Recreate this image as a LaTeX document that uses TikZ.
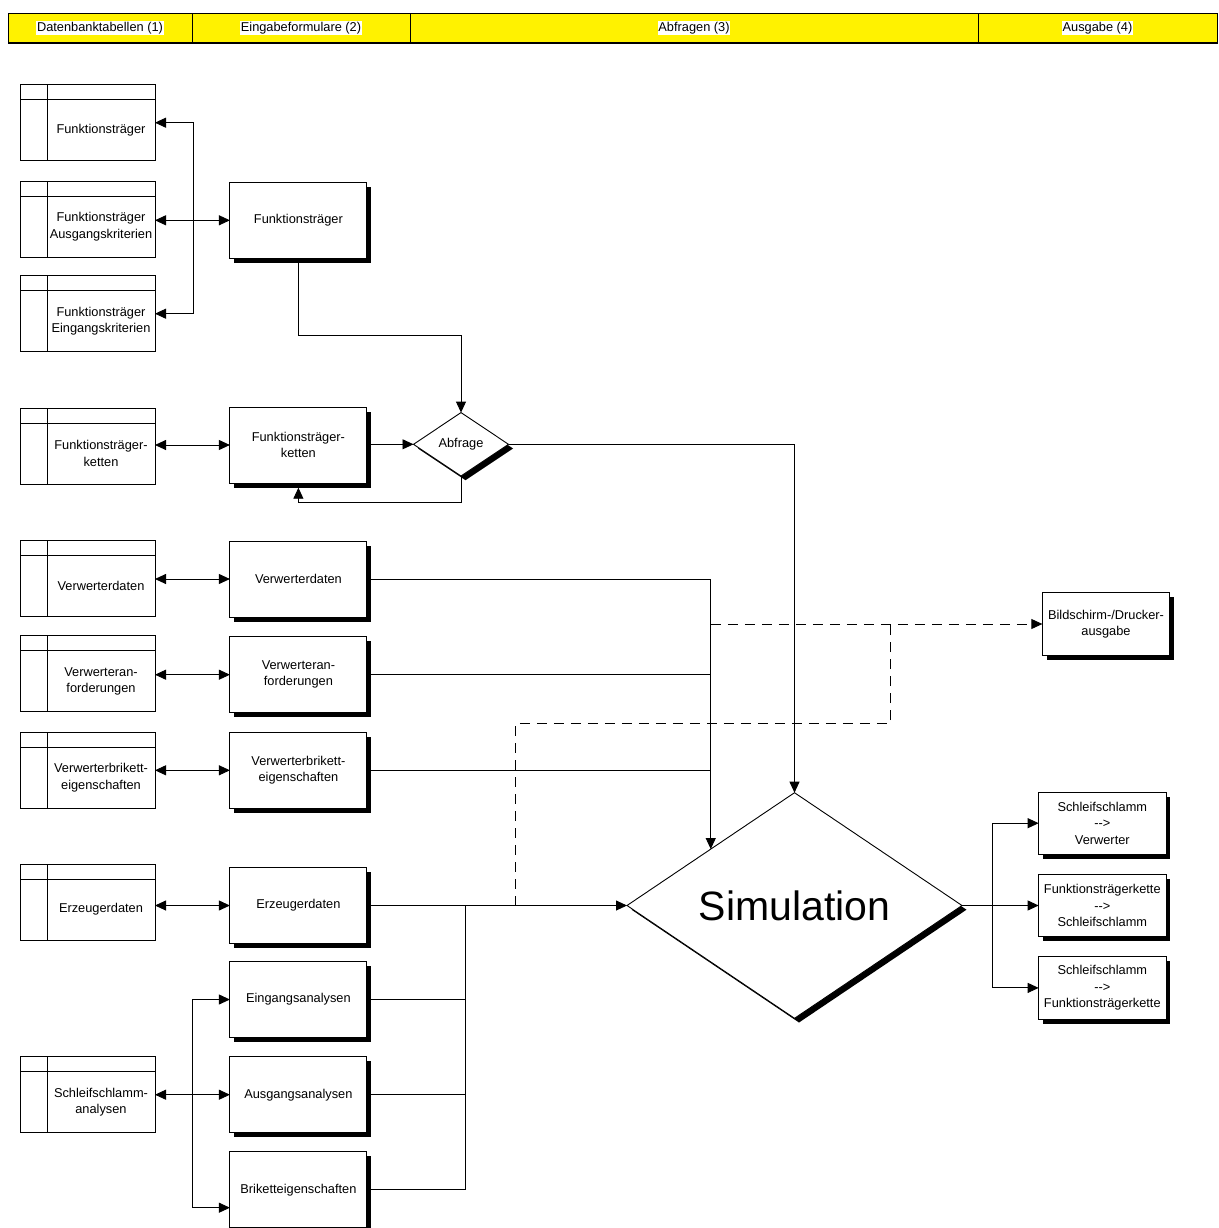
\documentclass[tikz,border=0pt]{standalone}
\usepackage{fontspec}
\setmainfont{Liberation Sans}
\usetikzlibrary{arrows.meta,shapes.geometric,shadows}
\begin{document}
\begin{tikzpicture}[x=1pt,y=-1pt,
  font=\fontsize{12.8}{16.4}\selectfont,
  ln/.style={line width=0.9pt,draw=black},
  arr/.style={-{Triangle[length=11pt,width=10pt]}},
  dblarr/.style={{Triangle[length=11pt,width=10pt]}-{Triangle[length=11pt,width=10pt]}},
  dashline/.style={dash pattern=on 10pt off 7pt},
  hdrcell/.style={draw=black,line width=0.8pt,fill=yellow,minimum height=30pt,inner sep=0pt,outer sep=0pt},
  hdrtext/.style={fill=white,inner sep=0.6pt},
  celltext/.style={align=center,inner sep=0pt,xshift=13.5pt,yshift=-7.5pt},
  dbtable/.style={draw=black,fill=white,line width=0.9pt,minimum width=135pt,minimum height=76pt,
    inner sep=0pt,outer sep=0pt,
    path picture={
      \draw[line width=0.9pt] ([yshift=-15pt]path picture bounding box.north west) -- ([yshift=-15pt]path picture bounding box.north east);
      \draw[line width=0.9pt] ([xshift=27pt]path picture bounding box.north west) -- ([xshift=27pt]path picture bounding box.south west);
    },
    label={[celltext]center:{#1}}},
  boxshadow/.style={drop shadow={shadow xshift=4.5pt,shadow yshift=-4.7pt,fill=black,opacity=1}},
  formbox/.style={draw=black,fill=white,line width=0.9pt,minimum width=137pt,minimum height=76pt,
    align=center,inner sep=1pt,outer sep=0pt,boxshadow},
  outbox/.style={draw=black,fill=white,line width=0.9pt,minimum width=127.3pt,minimum height=62.5pt,
    align=center,inner sep=1pt,outer sep=0pt,boxshadow},
  decision/.style={diamond,aspect=1.5,draw=black,fill=white,line width=0.9pt,inner sep=0pt,outer sep=0pt,
    drop shadow={shadow xshift=4.5pt,shadow yshift=-4.2pt,fill=black,opacity=1}}
]
\useasboundingbox (0,0) rectangle (1218,1228);

% column headings
\node[hdrcell,minimum width=184pt,label={[hdrtext]center:Datenbanktabellen (1)}] (h1) at (100,28) {};
\node[hdrcell,minimum width=218pt,label={[hdrtext]center:Eingabeformulare (2)}] (h2) at (301,28) {};
\node[hdrcell,minimum width=568pt,label={[hdrtext]center:Abfragen (3)}] (h3) at (694,28) {};
\node[hdrcell,minimum width=239pt,label={[hdrtext]center:Ausgabe (4)}] (h4) at (1097.5,28) {};
\draw[line width=1.6pt] (h1.south west) -- (h4.south east);

% database tables
\node[dbtable={Funktionsträger}] (t1) at (87.5,122.7) {};
\node[dbtable={Funktionsträger\\Ausgangskriterien}] (t2) at (87.5,219.3) {};
\node[dbtable={Funktionsträger\\Eingangskriterien}] (t3) at (87.5,313.7) {};
\node[dbtable={Funktionsträger-\\ketten}] (t4) at (87.5,446) {};
\node[dbtable={Verwerterdaten}] (t5) at (87.5,578.7) {};
\node[dbtable={Verwerteran-\\forderungen}] (t6) at (87.5,673.7) {};
\node[dbtable={Verwerterbrikett-\\eigenschaften}] (t7) at (87.5,770) {};
\node[dbtable={Erzeugerdaten}] (t8) at (87.5,902) {};
\node[dbtable={Schleifschlamm-\\analysen}] (t9) at (87.5,1094.7) {};

% input forms
\node[formbox] (f1) at (298.4,220.3) {Funktionsträger};
\node[formbox] (f2) at (298.4,445) {Funktionsträger-\\ketten};
\node[formbox] (f3) at (298.4,579) {Verwerterdaten};
\node[formbox] (f4) at (298.4,674.7) {Verwerteran-\\forderungen};
\node[formbox] (f5) at (298.4,770.3) {Verwerterbrikett-\\eigenschaften};
\node[formbox] (f6) at (298.4,905.5) {Erzeugerdaten};
\node[formbox] (f7) at (298.4,999.5) {Eingangsanalysen};
\node[formbox] (f8) at (298.4,1094.7) {Ausgangsanalysen};
\node[formbox] (f9) at (298.4,1189.7) {Briketteigenschaften};

% queries
\node[decision,minimum width=95pt,minimum height=63.4pt] (abf) at (461,444.3) {Abfrage};
\node[decision,minimum width=335pt,minimum height=225.6pt,font=\fontsize{41}{49}\selectfont] (sim) at (794.5,905.5) {Simulation};

% output
\node[outbox] (bild) at (1106,624) {Bildschirm-/Drucker-\\ausgabe};
\node[outbox] (o1) at (1102.3,823.2) {Schleifschlamm\\-{}-{}>\\Verwerter};
\node[outbox] (o2) at (1102.3,905.5) {Funktionsträgerkette\\-{}-{}>\\Schleifschlamm};
\node[outbox] (o3) at (1102.3,987.9) {Schleifschlamm\\-{}-{}>\\Funktionsträgerkette};

% Funktionstraeger tables <-> form
\coordinate (s1) at (193,220.3);
\draw[ln,arr] (s1) |- (t1.east);
\draw[ln,arr] (s1) |- (t3.east);
\draw[ln,dblarr] (t2.east |- f1.west) -- (f1.west);

% form -> query, query loop
\coordinate (j1) at (298.4,335.7);
\draw[ln,arr] (f1.south) -- (j1) -| (abf.north);
\draw[ln,dblarr] (t4.east |- f2.west) -- (f2.west);
\draw[ln,arr] (f2.east |- abf.west) -- (abf.west);
\coordinate (j2) at (461,502.7);
\draw[ln,arr] (abf.south) -- (j2) -| ([yshift=-4.7pt]f2.south);
\draw[ln,arr] (abf.east) -| (sim.north);

% Verwerter and Erzeuger
\draw[ln,dblarr] (t5.east |- f3.west) -- (f3.west);
\draw[ln,dblarr] (t6.east |- f4.west) -- (f4.west);
\draw[ln,dblarr] (t7.east |- f5.west) -- (f5.west);
\draw[ln,dblarr] (t8.east |- f6.west) -- (f6.west);
\draw[ln,arr] (f3.east) -| (sim.north west);
\draw[ln] (f4.east) -- (f4.east -| sim.north west);
\draw[ln] (f5.east) -- (f5.east -| sim.north west);
\draw[ln,arr] (f6.east) -- (sim.west);

% Schleifschlamm analyses
\coordinate (s2) at (192.7,1094.7);
\draw[ln,arr] (s2) -- (t9.east);
\draw[ln,arr] (s2) -- (f8.west);
\draw[ln,arr] (s2) |- (f7.west);
\draw[ln,arr] (s2) |- ([yshift=-18pt]f9.west);
\coordinate (j3) at (465,905.5);
\draw[ln] (f7.east) -| (j3);
\draw[ln] (f8.east) -- (f8.east -| j3);
\draw[ln] (f9.east) -| (j3);

% screen / printer output
\draw[ln,dashline,arr] (sim.north west |- bild.west) -- (bild.west);
\coordinate (d1) at (515,905.5);
\coordinate (d2) at (890.7,723.3);
\draw[ln,dashline] (d1) |- (d2) -- (d2 |- bild.west);

% simulation results
\coordinate (s3) at (992.3,905.5);
\draw[ln,arr] (sim.east) -- (o2.west);
\draw[ln,arr] (s3) |- (o1.west);
\draw[ln,arr] (s3) |- (o3.west);
\end{tikzpicture}
\end{document}
